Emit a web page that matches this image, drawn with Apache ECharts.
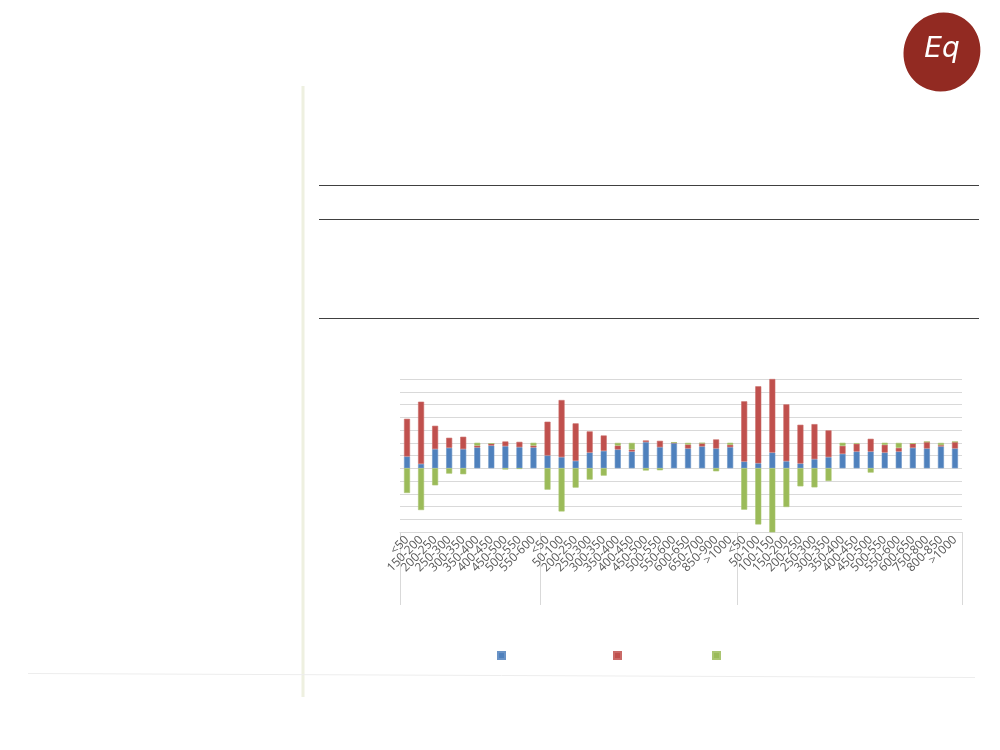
<!DOCTYPE html>
<html><head><meta charset="utf-8">
<script src="https://cdn.jsdelivr.net/npm/echarts@6/dist/echarts.min.js"></script>
<style>html,body{margin:0;padding:0;background:#fff}#c{width:1000px;height:750px}</style>
</head><body><div id="c"></div>
<script>
const categories = [
  '<50','150-200','200-250','250-300','300-350','350-400','400-450','450-500','500-550','550-600',
  '<50','50-100','200-250','250-300','300-350','350-400','400-450','450-500','500-550','550-600','600-650','650-700','850-900','>1000',
  '<50','50-100','100-150','150-200','200-250','250-300','300-350','350-400','400-450','450-500','500-550','550-600','600-650','750-800','800-850','>1000'
];
const groupStarts = [0, 10, 24];
const blueValues = [0.92,0.34,1.5,1.6,1.5,1.63,1.78,1.73,1.65,1.63,
  1.0,0.87,0.58,1.23,1.36,1.47,1.31,2.05,1.65,1.97,1.55,1.71,1.55,1.65,
  0.52,0.39,1.23,0.55,0.37,0.71,0.87,1.13,1.31,1.31,1.23,1.31,1.6,1.55,1.71,1.55];
const redValues = [2.96,4.88,1.83,0.79,0.97,0.15,0.16,0.37,0.42,0.15,
  2.65,4.48,2.94,1.66,1.21,0.31,0.16,0.13,0.5,0.05,0.31,0.26,0.71,0.19,
  4.73,6.04,5.77,4.46,3.04,2.75,2.1,0.63,0.61,1.0,0.61,0.29,0.34,0.52,0.1,0.52];
const greenValues = [-1.94,-3.28,-1.34,-0.42,-0.47,0.22,0,-0.1,-0.05,0.22,
  -1.68,-3.39,-1.52,-0.89,-0.58,0.21,0.52,-0.18,-0.16,0,0.13,0,-0.24,0.16,
  -3.25,-4.41,-5.14,-3.04,-1.42,-1.5,-1.0,0.24,0.05,-0.34,0.16,0.39,0,0,0.18,0];
const seriesNames = ['Serie 1','Serie 2','Serie 3'];
const colors = ['#4F81BD','#C0504D','#9BBB59'];

const chart = echarts.init(document.getElementById('c'), null, {renderer:'canvas'});
const mkSeries = (name, data, color) => ({
  name, type:'bar', stack:'s', data, barWidth:6,
  itemStyle:{color, borderColor: echarts.color.lift(color, 0.15), borderWidth:0.6},
  emphasis:{disabled:true}, animation:false
});
const legendLefts = [497, 613, 712];
chart.setOption({
  animation:false,
  grid:{left:400, right:38, top:379, bottom:218, containLabel:false},
  legend: seriesNames.map((n,i)=>({
    data:[n], left:legendLefts[i], top:651, itemWidth:7, itemHeight:7, icon:'rect',
    formatter:()=>'', itemGap:0, padding:0, selectedMode:false,
    textStyle:{fontSize:1}
  })),
  xAxis:{
    type:'category', data:categories,
    axisLine:{show:true, onZero:false, lineStyle:{color:'#D9D9D9', width:1}},
    axisTick:{show:true, length:73, interval:(i)=>groupStarts.includes(i), lineStyle:{color:'#D9D9D9'}},
    axisLabel:{interval:0, rotate:45, fontSize:12, color:'#595959', fontFamily:'Open Sans', margin:6},
    splitLine:{show:false}
  },
  yAxis:{
    type:'value', min:-5, max:7, interval:1,
    axisLabel:{show:false}, axisLine:{show:false}, axisTick:{show:false},
    splitLine:{show:true, lineStyle:{color:'#D9D9D9', width:1}}
  },
  series:[
    mkSeries(seriesNames[0], blueValues, colors[0]),
    mkSeries(seriesNames[1], redValues, colors[1]),
    mkSeries(seriesNames[2], greenValues, colors[2])
  ],
  graphic:[
    {type:'line', shape:{x1:303, y1:86, x2:303, y2:697}, style:{stroke:'#EEF0E0', lineWidth:3}, silent:true},
    {type:'line', shape:{x1:319, y1:185.5, x2:979, y2:185.5}, style:{stroke:'#404040', lineWidth:1}, silent:true},
    {type:'line', shape:{x1:319, y1:219.5, x2:979, y2:219.5}, style:{stroke:'#404040', lineWidth:1}, silent:true},
    {type:'line', shape:{x1:319, y1:318.5, x2:979, y2:318.5}, style:{stroke:'#404040', lineWidth:1}, silent:true},
    {type:'line', shape:{x1:28, y1:673.5, x2:975, y2:677.5}, style:{stroke:'#EDEDED', lineWidth:1}, silent:true},
    {type:'ellipse', shape:{cx:942, cy:52, rx:38, ry:40}, rotation:-0.5, originX:942, originY:52, style:{fill:'#922A22'}, silent:true},
    {type:'text', x:942, y:50, style:{text:'Eq', fill:'#fff', font:'italic 28px "DejaVu Sans"', align:'center', verticalAlign:'middle'}, silent:true}
  ]
});
</script></body></html>
